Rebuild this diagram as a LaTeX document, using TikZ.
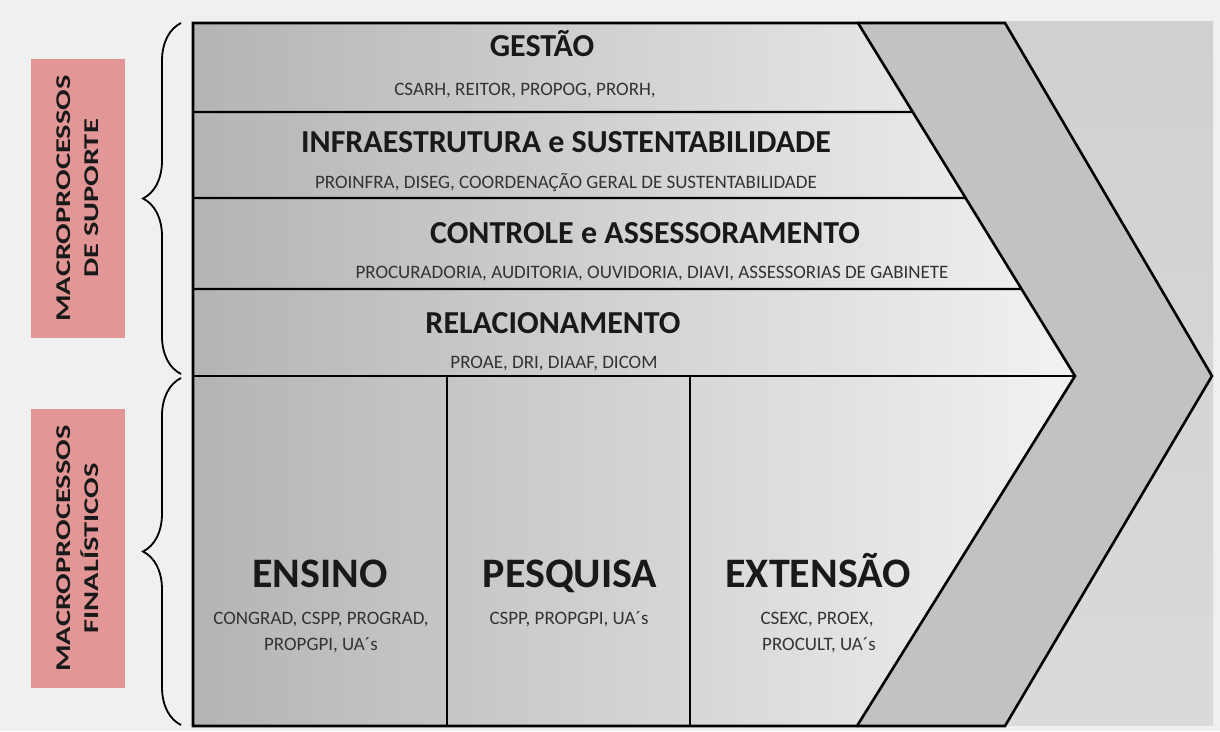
\documentclass[tikz,border=0pt]{standalone}
\usepackage{fontspec}
\setmainfont{Carlito}
\usetikzlibrary{decorations.pathreplacing,calc}

\definecolor{fundo}{RGB}{240,240,240}
\definecolor{rosa}{RGB}{226,150,150}
\definecolor{cinzaEsq}{RGB}{180,180,180}
\definecolor{cinzaDir}{RGB}{242,242,242}
\definecolor{faixa}{RGB}{194,194,194}
\definecolor{cinzaTopo}{RGB}{208,208,208}
\definecolor{cinzaBase}{RGB}{218,218,218}

\newcommand{\esticado}[1]{\scalebox{1.45}[1]{#1}}

\tikzset{
  titulo/.style={font=\bfseries\fontsize{32}{34}\selectfont, text=black!90, anchor=base, inner sep=0pt},
  tituloGrande/.style={font=\bfseries\fontsize{42}{44}\selectfont, text=black!90, anchor=base, inner sep=0pt},
  orgaos/.style={font=\fontsize{19}{22}\selectfont, text=black!80, anchor=base, inner sep=0pt},
  rotulo/.style={fill=rosa, minimum width=279pt, minimum height=94pt, rotate=90, align=center,
    font=\bfseries\fontsize{21}{28}\selectfont, text=black!90},
  contorno/.style={line width=2.6pt, line join=miter},
  divisao/.style={line width=2.2pt},
  chave/.style={decorate, decoration={brace, amplitude=38pt}, line width=1.8pt},
}

\begin{document}
\begin{tikzpicture}[x=1pt,y=-1pt]
        \fill [fundo] (0,0) rectangle (1220,731);
        \useasboundingbox (0,0) rectangle (1220,731);

        % cantos da seta
        \coordinate (a1) at (193,23);
        \coordinate (a2) at (858,23);
        \coordinate (ponta) at (1075,376);
        \coordinate (a3) at (857,726);
        \coordinate (a4) at (193,726);
        \coordinate (b1) at (1005,23);
        \coordinate (b2) at (1212,376);
        \coordinate (b3) at (1005,726);

        % fundo da direita e faixa
        \shade [top color=cinzaTopo, bottom color=cinzaBase] (858,21) rectangle (1213,725);
        \fill [faixa] (a2) -- (b1) -- (b2) -- (b3) -- (a3) -- (ponta) -- cycle;
        \draw [contorno] (a2) -- (b1) -- (b2) -- (b3) -- (a3);

        % seta principal
        \shade [left color=cinzaEsq, right color=cinzaDir] (a1) -- (a2) -- (ponta) -- (a3) -- (a4) -- cycle;
        \foreach \y in {112,198,289}
          \draw [divisao] (193,\y) -- ($(a2)!{(\y-23)/353}!(ponta)$);
        \draw [divisao] (193,376) -- (ponta);
        \draw [divisao] (447,376) -- (447,726);
        \draw [divisao] (690,376) -- (690,726);
        \draw [contorno] (a1) -- (a2) -- (ponta) -- (a3) -- (a4) -- cycle;

        % macroprocessos de suporte
        \node [titulo] (gestao) at (542,56) {GESTÃO};
        \node [orgaos] (gestaoSub) at (525,95) {CSARH, REITOR, PROPOG, PRORH,};
        \node [titulo] (infra) at (566,152) {INFRAESTRUTURA e SUSTENTABILIDADE};
        \node [orgaos] (infraSub) at (566,188) {PROINFRA, DISEG, COORDENAÇÃO GERAL DE SUSTENTABILIDADE};
        \node [titulo] (controle) at (645,243) {CONTROLE e ASSESSORAMENTO};
        \node [orgaos] (controleSub) at (652,278) {PROCURADORIA, AUDITORIA, OUVIDORIA, DIAVI, ASSESSORIAS DE GABINETE};
        \node [titulo] (relac) at (553,333) {RELACIONAMENTO};
        \node [orgaos] (relacSub) at (554,368) {PROAE, DRI, DIAAF, DICOM};

        % macroprocessos finalisticos
        \node [tituloGrande] (ensino) at (320,587) {ENSINO};
        \node [orgaos] (ensinoSub) at (321,624) {CONGRAD, CSPP, PROGRAD,};
        \node [orgaos] (ensinoSubB) at (321,650) {PROPGPI, UA´s};
        \node [tituloGrande] (pesquisa) at (570,587) {PESQUISA};
        \node [orgaos] (pesquisaSub) at (569,624) {CSPP, PROPGPI, UA´s};
        \node [tituloGrande] (extensao) at (818,587) {EXTENSÃO};
        \node [orgaos] (extensaoSub) at (817,624) {CSEXC, PROEX,};
        \node [orgaos] (extensaoSubB) at (819,650) {PROCULT, UA´s};

        % rotulos e chaves
        \node [rotulo] (suporte) at (78,198.5) {\esticado{MACROPROCESSOS}\\\esticado{DE SUPORTE}};
        \node [rotulo] (finalisticos) at (78,548.5) {\esticado{MACROPROCESSOS}\\\esticado{FINALÍSTICOS}};
        \draw [chave] (181,374) -- (181,23);
        \draw [chave] (181,725) -- (181,378);
        \end{tikzpicture}
\end{document}
